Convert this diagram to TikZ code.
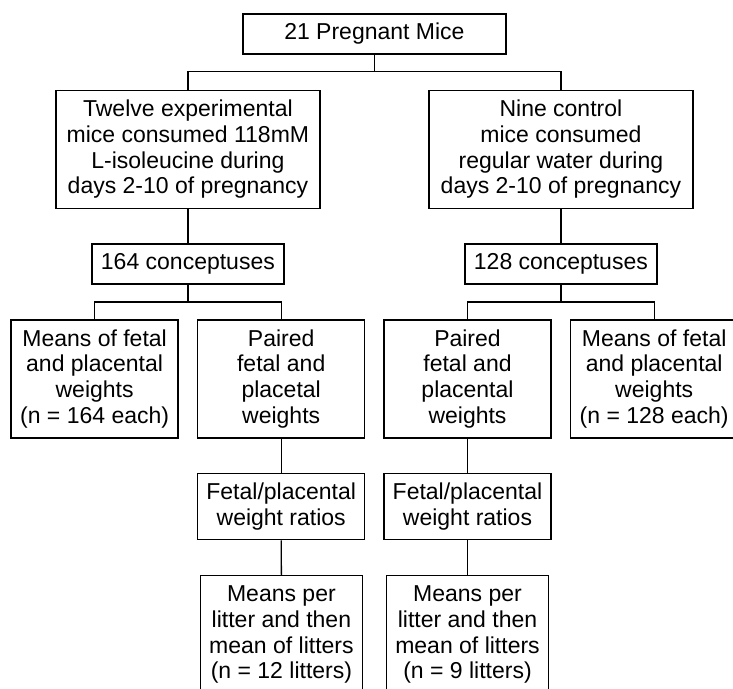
\documentclass[tikz,border=0pt]{standalone}
\usepackage{fontspec}
\setmainfont{Liberation Sans}
\begin{document}
\begin{tikzpicture}[x=1pt,y=-1pt,
  box/.style={draw, line width=1.3pt, inner sep=0pt, align=center,
    font=\fontsize{23}{25.8}\selectfont},
  link/.style={line width=1.3pt}]
\clip (0,0) rectangle (733,688);
\fill[white] (0,0) rectangle (733,688);
\node[box, minimum width=263pt, minimum height=40pt] (top) at (374.4,34) {21 Pregnant Mice};
\node[box, minimum width=264pt, minimum height=118pt] (L1) at (187.9,149.2)
  {Twelve experimental\\mice consumed 118mM\\L-isoleucine during\\days 2-10 of pregnancy};
\node[box, minimum width=264pt, minimum height=118pt] (R1) at (560.9,149.2)
  {Nine control\\mice consumed\\regular water during\\days 2-10 of pregnancy};
\node[box, minimum width=192pt, minimum height=40pt] (L2) at (187.9,263.9) {164 conceptuses};
\node[box, minimum width=192pt, minimum height=40pt] (R2) at (560.9,263.9) {128 conceptuses};
\node[box, minimum width=167pt, minimum height=118pt] (A) at (94.6,378.9)
  {Means of fetal\\and placental\\weights\\(n = 164 each)};
\node[box, minimum width=167pt, minimum height=118pt] (B) at (281.2,378.9)
  {Paired\\fetal and\\placetal\\weights};
\node[box, minimum width=167pt, minimum height=118pt] (C) at (467.5,378.9)
  {Paired\\fetal and\\placental\\weights};
\node[box, minimum width=167pt, minimum height=118pt] (D) at (654.2,378.9)
  {Means of fetal\\and placental\\weights\\(n = 128 each)};
\node[box, minimum width=167pt, minimum height=66pt] (BR) at (281.2,506.7)
  {Fetal/placental\\weight ratios};
\node[box, minimum width=167pt, minimum height=66pt] (CR) at (467.5,506.7)
  {Fetal/placental\\weight ratios};
\node[box, minimum width=162.5pt, minimum height=118pt] (BF) at (281.4,634.7)
  {Means per\\litter and then\\mean of litters\\(n = 12 litters)};
\node[box, minimum width=162pt, minimum height=118pt] (CF) at (467.5,634.7)
  {Means per\\litter and then\\mean of litters\\(n = 9 litters)};
\coordinate (j1) at (374.4,71.7);
\coordinate (j2) at (187.9,302);
\coordinate (j3) at (560.9,302);
\draw[link] (top.south) -- (j1);
\draw[link] (L1.north) |- (j1) -| (R1.north);
\draw[link] (L1.south) -- (L2.north);
\draw[link] (R1.south) -- (R2.north);
\draw[link] (L2.south) -- (j2);
\draw[link] (R2.south) -- (j3);
\draw[link] (A.north) |- (j2) -| (B.north);
\draw[link] (C.north) |- (j3) -| (D.north);
\draw[link] (B.south) -- (BR.north);
\draw[link] (C.south) -- (CR.north);
\draw[link] (BR.south) -- (BF.north);
\draw[link] (CR.south) -- (CF.north);
\end{tikzpicture}
\end{document}
